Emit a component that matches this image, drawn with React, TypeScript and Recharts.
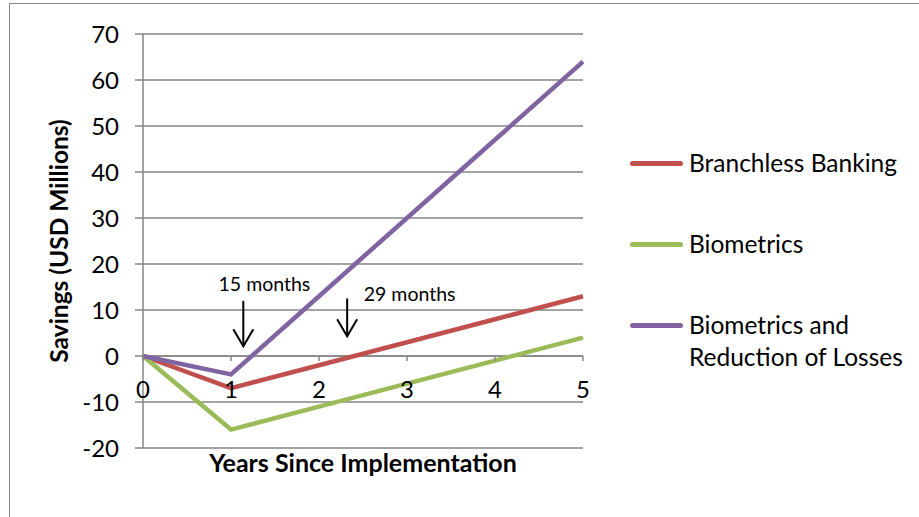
import React from 'react';
import {
  LineChart, Line, XAxis, YAxis, CartesianGrid, Legend, ReferenceLine, ReferenceDot,
} from 'recharts';

const years = [0, 1, 2, 3, 4, 5];
const branchless = [0, -7, -2, 3, 8, 13];
const biometrics = [0, -16, -11, -6, -1, 4];
const bioLosses = [0, -4, 13, 30, 47, 64];
const yTicks = [-20, -10, 0, 10, 20, 30, 40, 50, 60, 70];
const xTicks = [0, 1, 2, 3, 4, 5];

const seriesNames = ['Branchless Banking', 'Biometrics', 'Biometrics and Reduction of Losses'];
const seriesKeys = ['branchless', 'biometrics', 'bioLosses'];
const seriesColors = ['#C0504D', '#9BBB59', '#8064A2'];

const arrowXs = [1.14, 2.32];
const arrowTops = [12, 12.5];
const arrowTips = [2.1, 4.3];
const noteXs = [1.38, 3.03];
const noteYs = [15.2, 13];
const noteTexts = ['15 months', '29 months'];

const data = years.map((y, i) => ({
  year: y,
  branchless: branchless[i],
  biometrics: biometrics[i],
  bioLosses: bioLosses[i],
}));

const FONT = 'Lato, "Open Sans", sans-serif';
const GRID = '#868686';

const XTickMark = (label: number) => (props: any) => {
  const { cx, cy } = props;
  return (
    <g>
      <line x1={cx} y1={cy} x2={cx} y2={cy + 5} stroke={GRID} strokeWidth={1.5} />
      <text x={cx} y={cy + 36} textAnchor="middle" dominantBaseline="middle" fontFamily={FONT} fontSize={24} fill="#000">
        {label}
      </text>
    </g>
  );
};

const ArrowHead = (props: any) => {
  const { cx, cy } = props;
  return (
    <polyline
      points={`${cx - 10},${cy - 17} ${cx},${cy} ${cx + 10},${cy - 17}`}
      fill="none"
      stroke="#000"
      strokeWidth={2}
    />
  );
};

const NoteText = (text: string) => (props: any) => {
  const { cx, cy } = props;
  return (
    <text x={cx} y={cy} textAnchor="middle" dominantBaseline="middle" fontFamily={FONT} fontSize={19.5} fill="#000">
      {text}
    </text>
  );
};

const YTitle = (props: any) => {
  const { viewBox } = props;
  const x = viewBox.x + 19;
  const y = viewBox.y + viewBox.height / 2;
  return (
    <text x={x} y={y} transform={`rotate(-90 ${x} ${y})`} textAnchor="middle" dominantBaseline="middle"
      fontFamily={FONT} fontWeight="bold" fontSize={24.5} fill="#000">
      Savings (USD Millions)
    </text>
  );
};

const XTitle = (props: any) => {
  const { viewBox } = props;
  const x = viewBox.x + viewBox.width / 2;
  const y = viewBox.y + 18;
  return (
    <text x={x} y={y} textAnchor="middle" dominantBaseline="middle"
      fontFamily={FONT} fontWeight="bold" fontSize={25} fill="#000">
      Years Since Implementation
    </text>
  );
};

const LegendContent = () => (
  <div style={{ fontFamily: FONT, fontSize: 24.5, color: '#000' }}>
    {seriesNames.map((n, i) => (
      <div key={n} style={{ display: 'flex', alignItems: 'flex-start', height: 81 }}>
        <div style={{ width: 53, height: 4.5, background: seriesColors[i], borderRadius: 3, marginTop: 14, flex: 'none' }} />
        <div style={{ marginLeft: 6, lineHeight: '32px', width: 240, textAlign: 'left' }}>{n}</div>
      </div>
    ))}
  </div>
);

export default function App() {
  return (
    <div style={{ position: 'absolute', left: 0, top: 0, width: 919, height: 517, background: '#fff', overflow: 'hidden' }}>
      <div style={{ position: 'absolute', left: 9, top: 3, width: 940, height: 540, borderLeft: `1.5px solid ${GRID}`, borderTop: `1.5px solid ${GRID}` }} />
      <LineChart width={919} height={517} data={data} margin={{ top: 34, right: 336, bottom: 29, left: 43 }}>
        <CartesianGrid vertical={false} stroke={GRID} strokeWidth={1.5} />
        <XAxis dataKey="year" type="number" domain={[0, 5]} ticks={xTicks} tick={false} tickLine={false}
          axisLine={false} height={40} label={<XTitle />} />
        <YAxis type="number" domain={[-20, 70]} ticks={yTicks} width={100} interval={0}
          axisLine={{ stroke: GRID, strokeWidth: 1.5 }} tickLine={{ stroke: GRID, strokeWidth: 1.5 }} tickSize={8} tickMargin={16}
          tick={{ fontFamily: FONT, fontSize: 24, fill: '#000' }} label={<YTitle />} />
        <ReferenceLine y={0} stroke={GRID} strokeWidth={1.5} />
        {xTicks.map((t) => (
          <ReferenceDot key={'xt' + t} x={t} y={0} r={0} shape={XTickMark(t)} />
        ))}
        {seriesKeys.map((k, i) => (
          <Line key={k} type="linear" dataKey={k} name={seriesNames[i]} stroke={seriesColors[i]} strokeWidth={4.5}
            dot={false} activeDot={false} isAnimationActive={false} />
        ))}
        {arrowXs.map((x, i) => (
          <ReferenceLine key={'al' + i} segment={[{ x, y: arrowTops[i] }, { x, y: arrowTips[i] }]} stroke="#000" strokeWidth={2} />
        ))}
        {arrowXs.map((x, i) => (
          <ReferenceDot key={'ah' + i} x={x} y={arrowTips[i]} r={0} shape={ArrowHead} />
        ))}
        {noteXs.map((x, i) => (
          <ReferenceDot key={'nt' + i} x={x} y={noteYs[i]} r={0} shape={NoteText(noteTexts[i])} />
        ))}
        <Legend layout="vertical" align="center" verticalAlign="middle" content={<LegendContent />}
          wrapperStyle={{ left: 630, top: 147, width: 290 }} />
      </LineChart>
    </div>
  );
}
